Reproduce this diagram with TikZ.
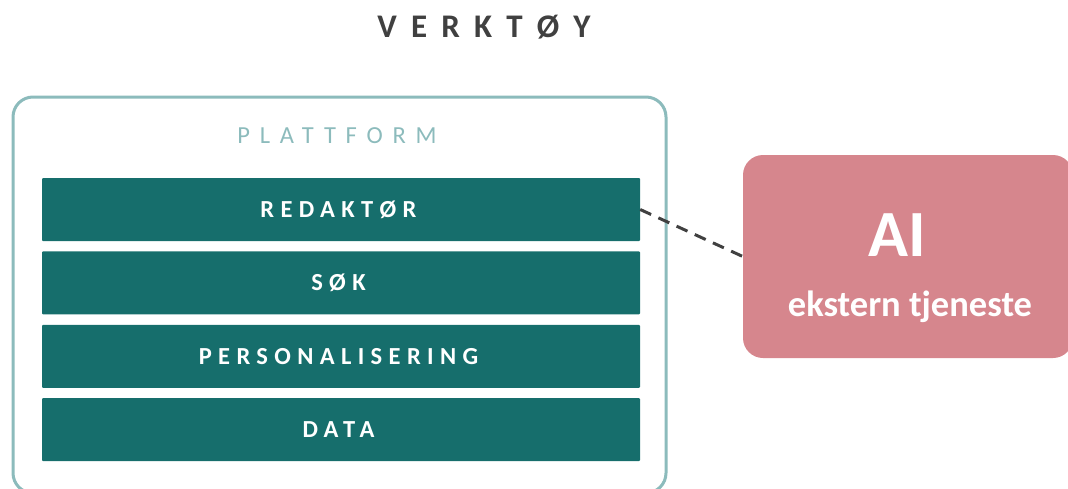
\documentclass[tikz,border=0pt]{standalone}
\usepackage{fontspec}
\setmainfont{Carlito}
\usetikzlibrary{positioning}

\definecolor{layerfill}{HTML}{166E6C}
\definecolor{frameline}{HTML}{8CBBBC}
\definecolor{aifill}{HTML}{D6868D}
\definecolor{inkgray}{HTML}{404040}

\tikzset{
  layer/.style={fill=layerfill,text=white,minimum width=598pt,minimum height=63pt,
    inner sep=0pt,rounded corners=1pt,
    font=\fontsize{24.5}{26}\selectfont\bfseries\addfontfeature{LetterSpace=26}},
}

\begin{document}
\begin{tikzpicture}[x=1pt,y=-1pt,node distance=10pt]
\useasboundingbox (0,0) rectangle (1068,488);
\node[text=inkgray,font=\fontsize{33}{35}\selectfont\bfseries\addfontfeature{LetterSpace=43}] (title) at (484,27) {VERKTØY};
\node[draw=frameline,line width=3pt,rounded corners=20pt,minimum width=653pt,minimum height=396pt] (platform) at (339.5,295) {};
\node[text=frameline,font=\fontsize{24.5}{26}\selectfont\addfontfeature{LetterSpace=40}] (platformlbl) at (337,136) {PLATTFORM};
\node[layer] (editor) at (341,209.5) {\hspace*{-5pt}REDAKTØR};
\node[layer,below=of editor] (search) {\hspace*{-5pt}SØK};
\node[layer,below=of search] (personal) {\hspace*{-5pt}PERSONALISERING};
\node[layer,below=of personal] (data) {\hspace*{-5pt}DATA};
\node[fill=aifill,rounded corners=20pt,minimum width=330pt,minimum height=203pt,inner sep=0pt] (ai) at (908,256.5) {};
\node[text=white,font=\fontsize{66}{68}\selectfont\bfseries] (ailbl) at (897,235) {AI};
\node[text=white,font=\fontsize{36.5}{38}\selectfont\bfseries] (aisub) at (910,307) {ekstern tjeneste};
\draw[inkgray,line width=3pt,dash pattern=on 12pt off 8pt] (editor.east) -- (ai.west);
\end{tikzpicture}
\end{document}
